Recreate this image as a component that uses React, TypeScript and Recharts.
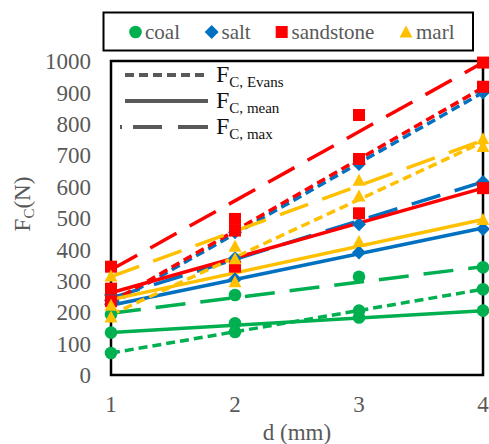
import React from 'react';
import { ComposedChart, Line, Scatter, XAxis, YAxis, ReferenceArea } from 'recharts';

// Cutting depth d (mm)
const depths = [1, 2, 3, 4];
const xTicks = [1, 2, 3, 4];
const yTicks = [0, 100, 200, 300, 400, 500, 600, 700, 800, 900, 1000];

// Cutting force points F_C (N) per rock type
const coalEvans = [70, 137, 205, 273];
const coalMean = [135, 165, 183, 205];
const coalMax = [193, 255, 313, 343];

const saltEvans = [225, 455, 672, 900];
const saltMean = [238, 305, 390, 465];
const saltMax = [255, 372, 480, 615];

const sandstoneEvans = [235, 460, 688, 918];
const sandstoneMean = [275, 345, 515, 595];
const sandstoneMax = [345, 497, 828, 995];

const marlEvans = [185, 370, 570, 728];
const marlMean = [222, 297, 425, 495];
const marlMax = [315, 410, 620, 752];

// Trend lines, values at d = 1 and d = 4
const fitDepths = [1, 4];
const coalEvansFit = [70, 273];
const coalMeanFit = [135, 205];
const coalMaxFit = [197, 345];
const saltEvansFit = [225, 900];
const saltMeanFit = [222, 468];
const saltMaxFit = [245, 615];
const sandstoneEvansFit = [232, 915];
const sandstoneMeanFit = [262, 595];
const sandstoneMaxFit = [335, 995];
const marlEvansFit = [192, 742];
const marlMeanFit = [240, 495];
const marlMaxFit = [313, 748];

const rockNames = ['coal', 'salt', 'sandstone', 'marl'];
const rockColors = ['#00B050', '#0070C0', '#FF0000', '#FFC000'];
const rockShapes = ['circle', 'diamond', 'square', 'triangle'];

const rocks = [
  { evans: coalEvans, mean: coalMean, max: coalMax, fits: [coalEvansFit, coalMeanFit, coalMaxFit] },
  { evans: saltEvans, mean: saltMean, max: saltMax, fits: [saltEvansFit, saltMeanFit, saltMaxFit] },
  { evans: sandstoneEvans, mean: sandstoneMean, max: sandstoneMax, fits: [sandstoneEvansFit, sandstoneMeanFit, sandstoneMaxFit] },
  { evans: marlEvans, mean: marlMean, max: marlMax, fits: [marlEvansFit, marlMeanFit, marlMaxFit] },
].map((r, i) => ({ ...r, name: rockNames[i], color: rockColors[i], shape: rockShapes[i] }));

const lineStyles = ['9 5', undefined, '30 15'];
const styleLabels = ['Evans', 'mean', 'max'];

const toPoints = (vals: number[]) => depths.map((d, i) => ({ d, f: vals[i] }));
const toFit = (vals: number[]) => fitDepths.map((d, i) => ({ d, f: vals[i] }));

const FONT = '"Liberation Serif", "Times New Roman", serif';
const GREY = '#595959';

function Symbol({ cx, cy, shape, color }: { cx: number; cy: number; shape: string; color: string }) {
  if (shape === 'circle') return <circle cx={cx} cy={cy} r={6.3} fill={color} />;
  if (shape === 'diamond')
    return <polygon points={`${cx},${cy - 7} ${cx + 7},${cy} ${cx},${cy + 7} ${cx - 7},${cy}`} fill={color} />;
  if (shape === 'square') return <rect x={cx - 6} y={cy - 6} width={12} height={12} fill={color} />;
  return <polygon points={`${cx},${cy - 6.5} ${cx + 6.5},${cy + 5.5} ${cx - 6.5},${cy + 5.5}`} fill={color} />;
}

const tickStyle = { fontSize: 23, fill: GREY, fontFamily: FONT };

export default function App() {
  return (
    <div style={{ position: 'absolute', left: 0, top: 0, width: 489, height: 444, background: '#fff', fontFamily: FONT }}>
      <ComposedChart width={489} height={444} margin={{ top: 61, right: 6, bottom: 0, left: 0 }}>
        <XAxis
          type="number"
          dataKey="d"
          domain={[1, 4]}
          ticks={xTicks}
          height={69}
          tickLine={false}
          axisLine={false}
          tickSize={0}
          tickMargin={21}
          tick={tickStyle}
        />
        <YAxis
          type="number"
          dataKey="f"
          domain={[0, 1000]}
          ticks={yTicks}
          width={111}
          tickLine={false}
          axisLine={false}
          tickSize={0}
          tickMargin={20}
          tick={tickStyle}
        />
        <ReferenceArea x1={1} x2={4} y1={0} y2={1000} fill="none" stroke="#000" strokeWidth={2.5} ifOverflow="visible" />
        {rocks.flatMap((r) =>
          r.fits.map((fit, k) => (
            <Line
              key={`${r.name}-fit-${k}`}
              data={toFit(fit)}
              dataKey="f"
              type="linear"
              stroke={r.color}
              strokeWidth={3.5}
              strokeDasharray={lineStyles[k]}
              dot={false}
              activeDot={false}
              isAnimationActive={false}
            />
          ))
        )}
        {rocks.flatMap((r) =>
          [r.evans, r.mean, r.max].map((vals, k) => (
            <Scatter
              key={`${r.name}-pts-${k}`}
              data={toPoints(vals)}
              dataKey="f"
              fill={r.color}
              isAnimationActive={false}
              shape={(p: any) => <Symbol cx={p.cx} cy={p.cy} shape={r.shape} color={r.color} />}
            />
          ))
        )}
      </ComposedChart>

      <svg
        width={489}
        height={444}
        style={{ position: 'absolute', left: 0, top: 0, pointerEvents: 'none' }}
        fontFamily={FONT}
      >
        {/* series legend */}
        <rect x={103.5} y={12.5} width={369.5} height={38} fill="#fff" stroke="#000" strokeWidth={2} />
        {[
          { sx: 135.5, tx: 145 },
          { sx: 211.7, tx: 221.5 },
          { sx: 281.7, tx: 291.5 },
          { sx: 406, tx: 416 },
        ].map((pos, i) => (
          <g key={rocks[i].name}>
            <Symbol cx={pos.sx} cy={32} shape={rocks[i].shape} color={rocks[i].color} />
            <text x={pos.tx} y={38.5} fontSize={21} fill={GREY}>
              {rocks[i].name}
            </text>
          </g>
        ))}

        {/* line style legend */}
        {styleLabels.map((lab, k) => {
          const y = 75 + k * 26;
          return (
            <g key={lab}>
              <line
                x1={k === 2 ? 120 : 125}
                x2={208}
                y1={y}
                y2={y}
                stroke={GREY}
                strokeWidth={4}
                strokeDasharray={k === 0 ? '9 5' : k === 2 ? '2 11 29 16 30 100' : undefined}
              />
              <text x={216} y={y + 7} fontSize={24} fill="#111">
                F
                <tspan fontSize={15} dy={5}>
                  C, {lab}
                </tspan>
              </text>
            </g>
          );
        })}

        {/* axis titles */}
        <text transform="translate(30,204) rotate(-90)" textAnchor="middle" fontSize={23} fill={GREY}>
          F
          <tspan fontSize={15} dy={4}>
            C
          </tspan>
          <tspan fontSize={23} dy={-4}>
            (N)
          </tspan>
        </text>
        <text x={297} y={440} textAnchor="middle" fontSize={23} fill={GREY}>
          d (mm)
        </text>
      </svg>
    </div>
  );
}
